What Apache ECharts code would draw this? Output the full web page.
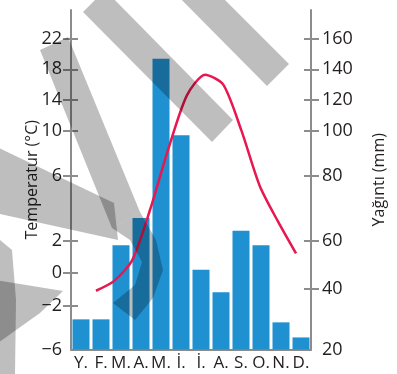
<!DOCTYPE html>
<html><head><meta charset="utf-8">
<script src="https://cdn.jsdelivr.net/npm/echarts@6/dist/echarts.min.js"></script>
<style>html,body{margin:0;padding:0;background:#fff}#c{width:397px;height:374px}</style>
</head><body><div id="c"></div>
<script>
// ---- data ----
const months = ['Y.','F.','M.','A.','M.','İ.','İ.','A.','S.','O.','N.','D.'];
const rainfall = [30, 30, 58, 67, 147, 98, 48, 39, 63, 58, 29, 24];          // mm
const temperature = [-1.1, -0.5, 0.8, 4.0, 8.5, 14.6, 17.3, 16.0, 10.0, 5.4, 3.2, 1.2]; // °C
const tempTicks = [-6, -2, 0, 2, 6, 10, 14, 18, 22];
const rainTicks = [20, 40, 60, 80, 100, 120, 140, 160];
// the original chart uses uneven (hand-set) axis scales: share of axis track per tick
const tempStops = [0, 129.6, 226.2, 321.1, 511.0, 644.5, 734.9, 825.3, 914.6];
const rainStops = [0, 177.6, 321.1, 511.0, 644.5, 734.9, 825.3, 914.6];
const TRACK = 1000;

function scaleMap(v, ticks, stops) {
  let i = 0;
  while (i < ticks.length - 2 && v > ticks[i + 1]) i++;
  const t = (v - ticks[i]) / (ticks[i + 1] - ticks[i]);
  return stops[i] + t * (stops[i + 1] - stops[i]);
}
function labelFor(u, ticks, stops) {
  const i = stops.findIndex(s => Math.abs(s - u) < 1e-6);
  if (i < 0) return '';
  const v = ticks[i];
  return v < 0 ? '\u2212' + Math.abs(v) : String(v);
}

const FONT = 'Open Sans';
const TXT = '#231f20';
const AX = '#8c8c8c';
const WM = 'rgba(0,0,0,0.255)';

const chart = echarts.init(document.getElementById('c'), null, {renderer: 'canvas'});
const baseY = {type: 'value', min: 0, max: TRACK, splitLine: {show: false}};

chart.setOption({
  animation: false,
  backgroundColor: '#fff',
  textStyle: {fontFamily: FONT},
  grid: [
    {left: 71, right: 86, top: 10, bottom: 24.5},
    {left: 96, right: 101, top: 10, bottom: 24.5}
  ],
  xAxis: [
    {type: 'category', gridIndex: 0, data: months,
     axisLine: {lineStyle: {color: AX, width: 2}},
     axisTick: {show: false},
     axisLabel: {interval: 0, margin: 5, fontSize: 17, color: TXT, fontFamily: FONT, hideOverlap: false}},
    {type: 'category', gridIndex: 1, data: months, boundaryGap: false, show: false}
  ],
  yAxis: [
    Object.assign({}, baseY, {gridIndex: 0, position: 'left',
      name: 'Temperatur (°C)', nameLocation: 'middle', nameRotate: 90, nameGap: 31, nameMoveOverlap: false,
      nameTextStyle: {fontSize: 16, color: TXT, fontFamily: FONT},
      axisLine: {show: true, lineStyle: {color: AX, width: 2}},
      axisTick: {show: true, length: 8, lineStyle: {color: AX, width: 2}, customValues: tempStops.slice(1)},
      axisLabel: {show: true, margin: 9, fontSize: 18, color: TXT, fontFamily: FONT,
        customValues: tempStops, formatter: u => labelFor(u, tempTicks, tempStops)}}),
    Object.assign({}, baseY, {gridIndex: 0, position: 'right',
      name: 'Yağıntı (mm)', nameLocation: 'middle', nameRotate: 90, nameGap: 60, nameMoveOverlap: false,
      nameTextStyle: {fontSize: 16, color: TXT, fontFamily: FONT},
      axisLine: {show: true, lineStyle: {color: AX, width: 2}},
      axisTick: {show: true, length: 8, lineStyle: {color: AX, width: 2}, customValues: rainStops.slice(1)},
      axisLabel: {show: true, margin: 11, fontSize: 18, color: TXT, fontFamily: FONT,
        customValues: rainStops, formatter: u => labelFor(u, rainTicks, rainStops)}}),
    Object.assign({}, baseY, {gridIndex: 0, position: 'left',
      axisLine: {show: false}, axisLabel: {show: false},
      axisTick: {show: true, inside: true, length: 7, lineStyle: {color: AX, width: 2}, customValues: tempStops.slice(1)}}),
    Object.assign({}, baseY, {gridIndex: 0, position: 'right',
      axisLine: {show: false}, axisLabel: {show: false},
      axisTick: {show: true, inside: true, length: 7, lineStyle: {color: AX, width: 2}, customValues: rainStops.slice(1)}}),
    Object.assign({}, baseY, {gridIndex: 1, show: false})
  ],
  series: [
    {type: 'bar', xAxisIndex: 0, yAxisIndex: 1, barWidth: 17,
     data: rainfall.map(v => scaleMap(v, rainTicks, rainStops)),
     itemStyle: {color: '#1f91d1'}},
    {type: 'line', xAxisIndex: 1, yAxisIndex: 4, symbol: 'none', smooth: 0.25,
     data: temperature.map(v => scaleMap(v, tempTicks, tempStops)),
     lineStyle: {color: '#e8174f', width: 2.5}}
  ],
  graphic: [
    {type: 'polygon', z: 100, silent: true, shape: {points: [[83,12],[105,-10],[233,120],[212,142]]}, style: {fill: WM}},
    {type: 'polygon', z: 100, silent: true, shape: {points: [[162,-20],[205,-20],[289,64],[267,86]]}, style: {fill: WM}},
    {type: 'polygon', z: 100, silent: true, shape: {points: [[40,50],[68,37],[140,212],[112,228]]}, style: {fill: WM}},
    {type: 'polygon', z: 100, silent: true, shape: {points: [[-5,146],[114,203],[118,240],[-5,213]]}, style: {fill: WM}},
    {type: 'polygon', z: 100, silent: true, shape: {points: [[112,228],[140,212],[156,240],[163,270],[153,298],[135,320],[113,303],[135,285],[142,262],[130,240]]}, style: {fill: WM}},
    {type: 'polygon', z: 100, silent: true, shape: {points: [[-5,280],[63,291],[40,313],[-5,345]]}, style: {fill: WM}},
    {type: 'polygon', z: 100, silent: true, shape: {points: [[0,240],[12,250],[16,300],[15,374],[0,374]]}, style: {fill: WM}}
  ]
});
</script>
</body></html>
